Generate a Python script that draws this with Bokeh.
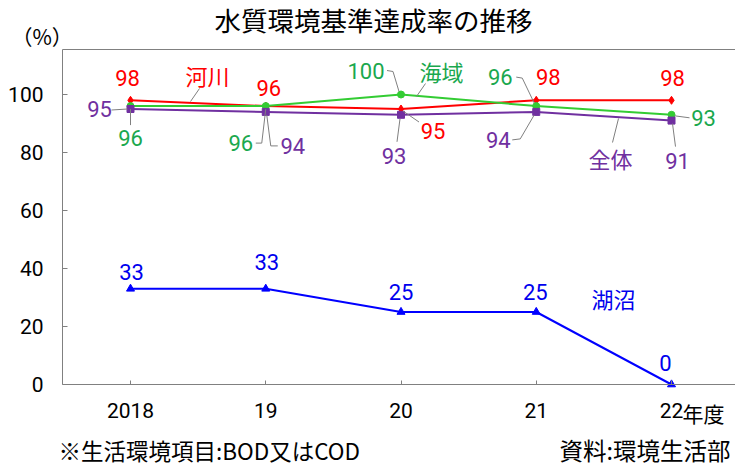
from bokeh.plotting import figure
from bokeh.models import Range1d, LinearAxis, Label, FixedTicker, ColumnDataSource
from bokeh.core.properties import value
from bokeh.embed import file_html
from bokeh.resources import INLINE

# ---- data ----
years = ["2018", "19", "20", "21", "22"]
year_suffix = "年度"
river = [98, 96, 95, 98, 98]      # 河川
sea = [96, 96, 100, 96, 93]       # 海域
total = [95, 94, 93, 94, 91]      # 全体
lake = [33, 33, 25, 25, 0]        # 湖沼
y_ticks = [0, 20, 40, 60, 80, 100]
y_top = 115.5

title_text = "水質環境基準達成率の推移"
unit_text = "（%）"
note_text = "※生活環境項目:BOD又はCOD"
source_text = "資料:環境生活部"

# ---- layout helpers (the frame covers the whole canvas) ----
W, H = 735, 465
PX0, SX = 130.0, 135.25      # pixel of first category, px per category
PY0, SY = 384.0, 2.9         # pixel of value 0, px per unit
X0, X1 = -PX0 / SX, (W - PX0) / SX
Y0, Y1 = -(H - PY0) / SY, PY0 / SY
FRAME_LEFT = (62 - PX0) / SX


def off(i, v, dx, dy):
    return i + dx / SX, v - dy / SY


def scr(px, py):
    return (px - PX0) / SX, (PY0 - py) / SY


NUM_FONT = "Roboto"
JP_FONT = "Noto Sans CJK JP"
GREY = "#808080"

p = figure(width=W, height=H, output_backend="svg", toolbar_location=None,
           x_range=Range1d(X0, X1), y_range=Range1d(Y0, Y1),
           min_border_left=0, min_border_right=0, min_border_top=0,
           min_border_bottom=0, min_border=0)
p.outline_line_color = None
p.grid.visible = False
p.background_fill_color = "white"
p.border_fill_color = "white"

xa = p.xaxis[0]
xa.fixed_location = 0
xa.bounds = (FRAME_LEFT, X1)
xa.ticker = FixedTicker(ticks=list(range(len(years))))
xa.major_label_overrides = {i: y for i, y in enumerate(years)}
xa.major_tick_in = 4
xa.major_tick_out = 0
xa.minor_tick_line_color = None
xa.axis_line_color = GREY
xa.major_tick_line_color = GREY
xa.major_label_text_font = NUM_FONT
xa.major_label_text_font_size = "21px"
xa.major_label_text_color = "black"
xa.major_label_standoff = 18

ya = p.yaxis[0]
ya.fixed_location = FRAME_LEFT
ya.bounds = (0, y_top)
ya.ticker = FixedTicker(ticks=y_ticks)
ya.major_tick_in = 5
ya.major_tick_out = 0
ya.minor_tick_line_color = None
ya.axis_line_color = GREY
ya.major_tick_line_color = GREY
ya.major_label_text_font = NUM_FONT
ya.major_label_text_font_size = "21px"
ya.major_label_text_color = "black"
ya.major_label_standoff = 19

top = LinearAxis(ticker=FixedTicker(ticks=[]), axis_line_color=GREY,
                 fixed_location=y_top, bounds=(FRAME_LEFT, X1),
                 major_label_text_font_size="0px", major_tick_line_color=None,
                 minor_tick_line_color=None, major_tick_out=0, major_tick_in=0)
p.add_layout(top, "above")

xs = list(range(len(years)))

series = [
    dict(vals=river, line="#ff0000", txt="#ff0000", marker="diamond", size=8,
         name="河川", name_pos=(207, 74), name_leader=[(199, 88), (190, 101)],
         lab=[(-3, -22), (3, -18), (32, 22), (12, -23), (1, -22)],
         lead=[None, None, [(2, 2), (18, 13)], None, None]),
    dict(vals=sea, line="#33cc33", txt="#1aa84e", marker="circle", size=7,
         name="海域", name_pos=(441, 70), name_leader=[(425, 83), (416, 96)],
         lab=[(0, 32), (-25, 37), (-35, -24), (-36, -29), (32, 3)],
         lead=[[(0, 3), (0, 19)], [(0, 3), (-4, 37), (-10, 37)],
               [(-2, -3), (-8, -23), (-14, -24)], [(-2, -3), (-14, -28), (-20, -29)],
               [(3, 1), (18, 3)]]),
    dict(vals=total, line="#7030a0", txt="#7030a0", marker="square", size=7,
         name="全体", name_pos=(610, 157), name_leader=[(612, 142), (618, 118)],
         lab=[(-31, 0), (27, 34), (-7, 41), (-38, 28), (6, 40)],
         lead=[[(-3, 0), (-19, 1)], [(1, 3), (5, 34), (12, 34)], [(-1, 4), (-4, 27)],
               [(-2, 3), (-16, 27), (-24, 28)], [(1, 3), (4, 26)]]),
    dict(vals=lake, line="#0000ff", txt="#0000ee", marker="triangle", size=8,
         name="湖沼", name_pos=(613, 297), name_leader=None,
         lab=[(1, -17), (1, -27), (0, -20), (-1, -20), (-6, -22)],
         lead=[None] * 5),
]

for s in series:
    p.line(xs, s["vals"], line_color=s["line"], line_width=2)
    p.scatter(xs, s["vals"], marker=s["marker"], size=s["size"],
              fill_color=s["line"], line_color=s["line"])

for s in series:
    for i, (v, ld) in enumerate(zip(s["vals"], s["lead"])):
        if ld:
            pts = [off(xs[i], v, dx, dy) for dx, dy in ld]
            p.line([a for a, b in pts], [b for a, b in pts], line_color=GREY, line_width=1)
    if s["name_leader"]:
        pts = [scr(a, b) for a, b in s["name_leader"]]
        p.line([a for a, b in pts], [b for a, b in pts], line_color=GREY, line_width=1)
    lp = [off(xs[i], v, dx, dy) for i, (v, (dx, dy)) in enumerate(zip(s["vals"], s["lab"]))]
    src = ColumnDataSource(dict(x=[a for a, b in lp], y=[b for a, b in lp],
                                t=[str(v) for v in s["vals"]]))
    p.text(x="x", y="y", text="t", source=src, text_font=value(NUM_FONT),
           text_font_size="22px", text_align="center", text_baseline="middle",
           text_color=s["txt"])
    nx, ny = scr(*s["name_pos"])
    p.add_layout(Label(x=nx, y=ny, text=s["name"], text_font=JP_FONT,
                       text_font_size="22px", text_align="center",
                       text_baseline="middle", text_color=s["txt"]))


def outer_label(px, py, text, size, align):
    cx, cy = scr(px, py)
    p.add_layout(Label(x=cx, y=cy, text=text, text_font=JP_FONT,
                       text_font_size=size, text_align=align,
                       text_baseline="middle", text_color="black"))


outer_label(373, 18.5, title_text, "26.5px", "center")
outer_label(11, 35, unit_text, "21px", "left")
outer_label(682, 412, year_suffix, "21px", "left")
outer_label(58, 449, note_text, "22.5px", "left")
outer_label(730, 449, source_text, "23.5px", "right")

open("out.html", "w").write(file_html(p, INLINE))
